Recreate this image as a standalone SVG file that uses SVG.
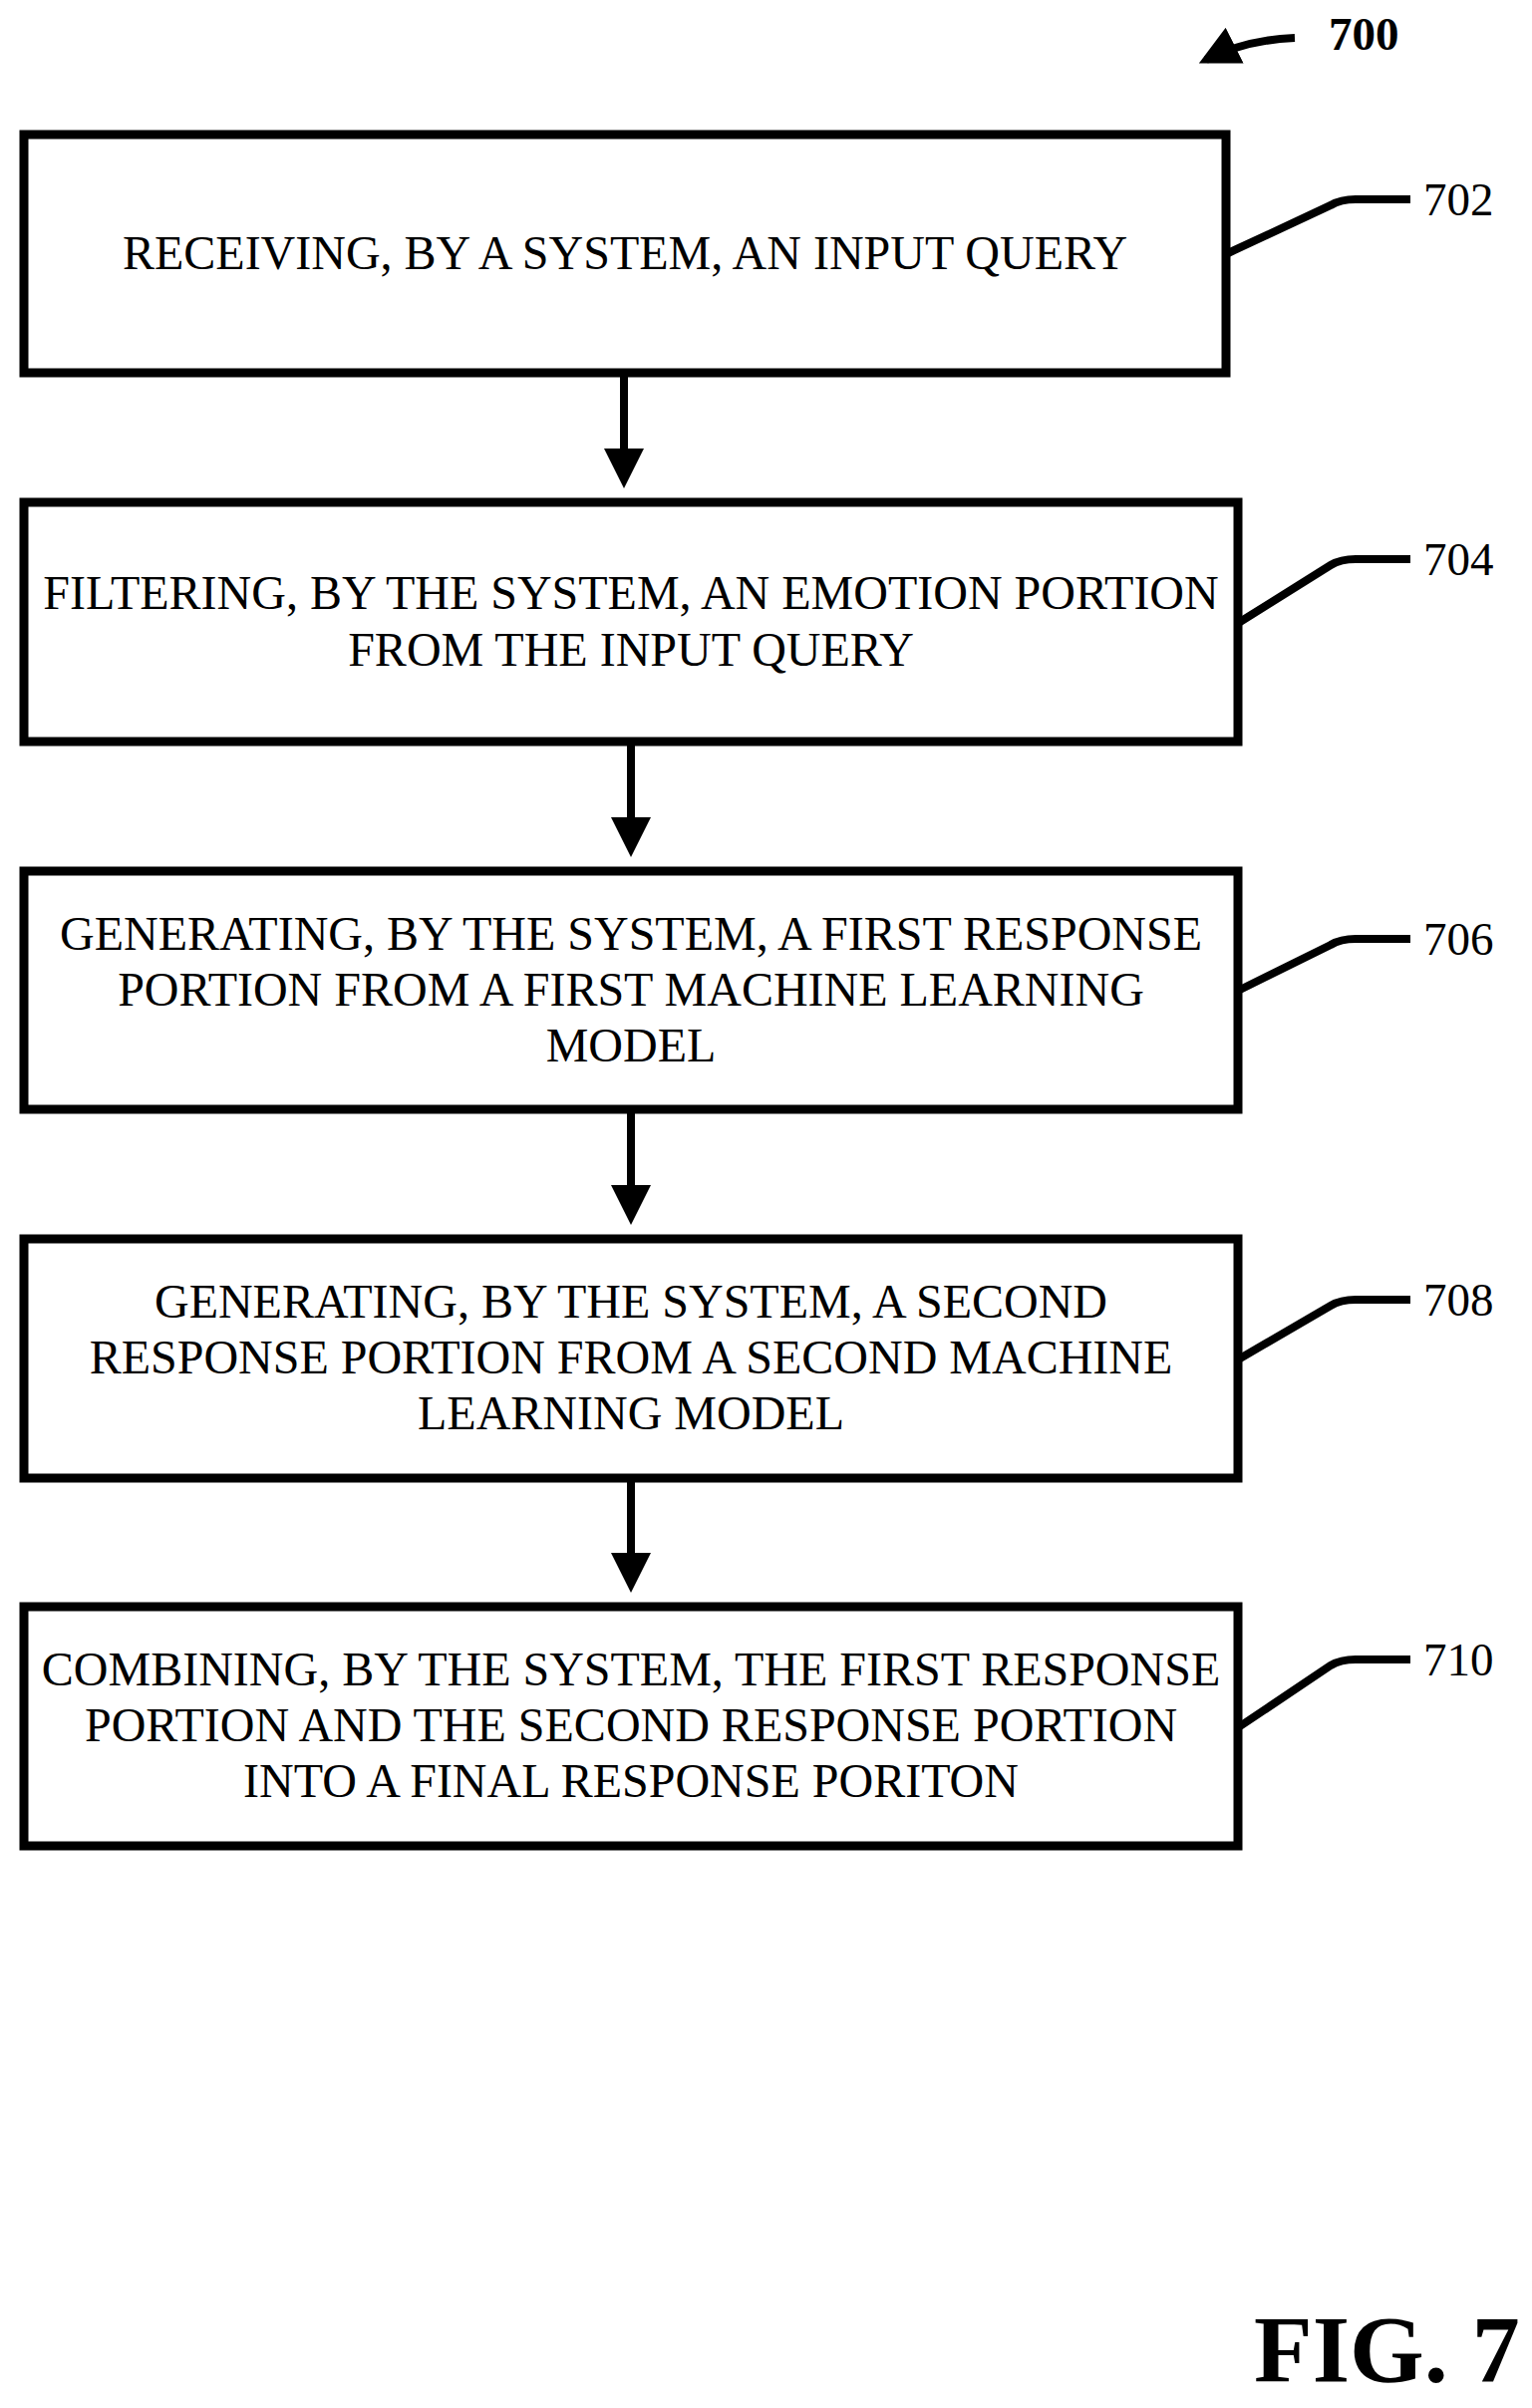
<svg xmlns="http://www.w3.org/2000/svg" width="1537" height="2416" viewBox="0 0 1537 2416">
<style>
.b{fill:#fff;stroke:#000;stroke-width:9}
.t{font-family:"Liberation Serif",serif;font-size:48px;text-anchor:middle}
.r{font-family:"Liberation Serif",serif;font-size:47px}
.l{fill:none;stroke:#000;stroke-width:8}
</style>
<defs><marker id="a" markerWidth="5" markerHeight="5" refX="4" refY="2.5" orient="auto" markerUnits="strokeWidth"><path d="M0,0L5,2.5L0,5z"/></marker></defs>
<rect width="1537" height="2416" fill="#fff"/>
<g id="n702"><rect class="b" x="24" y="135" width="1206" height="239"/><text class="t" x="627" y="270">RECEIVING, BY A SYSTEM, AN INPUT QUERY</text></g>
<g id="n704"><rect class="b" x="24" y="504" width="1218" height="240"/><text class="t" x="633" y="611">FILTERING, BY THE SYSTEM, AN EMOTION PORTION</text><text class="t" x="633" y="668">FROM THE INPUT QUERY</text></g>
<g id="n706"><rect class="b" x="24" y="874" width="1218" height="239"/><text class="t" x="633" y="953">GENERATING, BY THE SYSTEM, A FIRST RESPONSE</text><text class="t" x="633" y="1009">PORTION FROM A FIRST MACHINE LEARNING</text><text class="t" x="633" y="1065">MODEL</text></g>
<g id="n708"><rect class="b" x="24" y="1243" width="1218" height="240"/><text class="t" x="633" y="1322">GENERATING, BY THE SYSTEM, A SECOND</text><text class="t" x="633" y="1378">RESPONSE PORTION FROM A SECOND MACHINE</text><text class="t" x="633" y="1434">LEARNING MODEL</text></g>
<g id="n710"><rect class="b" x="24" y="1612" width="1218" height="240"/><text class="t" x="633" y="1691">COMBINING, BY THE SYSTEM, THE FIRST RESPONSE</text><text class="t" x="633" y="1747">PORTION AND THE SECOND RESPONSE PORTION</text><text class="t" x="633" y="1803">INTO A FINAL RESPONSE PORITON</text></g>
<g id="connectors">
<path class="l" d="M626,378V482" marker-end="url(#a)"/>
<path class="l" d="M633,748V852" marker-end="url(#a)"/>
<path class="l" d="M633,1117V1221" marker-end="url(#a)"/>
<path class="l" d="M633,1487V1590" marker-end="url(#a)"/>
<path class="l" d="M1232,254L1335,206Q1345,200 1360,200H1415"/>
<path class="l" d="M1244,624L1335,567Q1345,561 1360,561H1415"/>
<path class="l" d="M1244,993L1335,948Q1345,942 1360,942H1415"/>
<path class="l" d="M1244,1363L1335,1310Q1345,1304 1360,1304H1415"/>
<path class="l" d="M1244,1732L1335,1671Q1345,1665 1360,1665H1415"/>
<path class="l" d="M1299,38Q1250,40 1210,60" marker-end="url(#a)"/>
</g>
<text class="r" x="1428" y="216">702</text>
<text class="r" x="1428" y="577">704</text>
<text class="r" x="1428" y="958">706</text>
<text class="r" x="1428" y="1320">708</text>
<text class="r" x="1428" y="1681">710</text>
<text class="r" x="1333" y="50" style="font-weight:bold">700</text>
<text class="r" x="1258" y="2390" style="font-weight:bold;font-size:96px">FIG. 7</text>
</svg>
